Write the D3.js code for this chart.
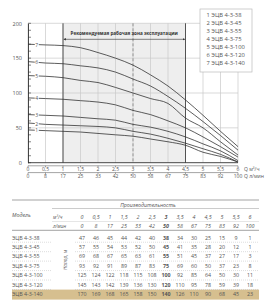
<!DOCTYPE html>
<html>
<head>
<meta charset="utf-8">
<script src="https://cdn.jsdelivr.net/npm/d3@7"></script>
<style>
  body { margin: 0; background: #fff; }
  svg { display: block; font-family: "Open Sans", sans-serif; }
</style>
</head>
<body>
<svg id="chart" width="280" height="300"></svg>
<script>
/** Flow values, m3/h and l/min */
var flowM3 = [0, 0.5, 1, 1.5, 2, 2.5, 3, 3.5, 4, 4.5, 5, 5.5, 6];
var flowLabelsM3 = ['0', '0,5', '1', '1,5', '2', '2,5', '3', '3,5', '4', '4,5', '5', '5,5', '6'];
var flowLmin = [0, 8, 17, 25, 33, 42, 50, 58, 67, 75, 83, 92, 100];

/** Pump models */
var models = ['ЭЦВ 4-3-38', 'ЭЦВ 4-3-45', 'ЭЦВ 4-3-55', 'ЭЦВ 4-3-75',
              'ЭЦВ 4-3-100', 'ЭЦВ 4-3-120', 'ЭЦВ 4-3-140'];

/** Head, m, one row per model */
var head38  = [47, 46, 45, 44, 42, 40, 38, 34, 30, 25, 15, 9, 1];
var head45  = [57, 55, 54, 53, 52, 50, 45, 41, 35, 28, 20, 12, 1];
var head55  = [69, 68, 67, 65, 63, 61, 55, 51, 45, 37, 27, 17, 3];
var head75  = [93, 92, 91, 89, 87, 83, 75, 69, 60, 50, 37, 23, 8];
var head100 = [125, 124, 122, 118, 115, 108, 100, 92, 85, 64, 50, 30, 11];
var head120 = [145, 143, 142, 139, 136, 130, 120, 110, 95, 78, 59, 39, 18];
var head140 = [170, 169, 168, 165, 158, 150, 140, 126, 110, 90, 68, 45, 23];
var heads = [head38, head45, head55, head75, head100, head120, head140];

/** Y ticks */
var headTicks = [0, 50, 100, 150, 200];
var zoneFrom = 1, zoneTo = 4.5, nominal = 3;

var svg = d3.select('#chart');
var textColor = '#555';

// ---------- chart ----------
var x = d3.scaleLinear().domain([0, 6]).range([28, 238]);
var y = d3.scaleLinear().domain([0, 200]).range([162.7, 23.3]);

// recommended zone
svg.append('rect')
    .attr('x', x(zoneFrom)).attr('y', y(200))
    .attr('width', x(zoneTo) - x(zoneFrom))
    .attr('height', y(0) - y(200))
    .attr('fill', '#eeeeee');

// grid
svg.append('g').selectAll('line')
    .data(flowM3)
    .enter().append('line')
    .attr('x1', d => x(d)).attr('x2', d => x(d))
    .attr('y1', y(200)).attr('y2', y(0))
    .attr('stroke', '#c8c8c8').attr('stroke-width', 0.7);

svg.append('g').selectAll('line')
    .data(headTicks.slice(1))
    .enter().append('line')
    .attr('x1', x(0)).attr('x2', x(6))
    .attr('y1', d => y(d)).attr('y2', d => y(d))
    .attr('stroke', '#c8c8c8').attr('stroke-width', 0.7);

// zone borders and nominal line
[zoneFrom, zoneTo].forEach(function(q) {
    svg.append('line')
        .attr('x1', x(q)).attr('x2', x(q))
        .attr('y1', y(200)).attr('y2', y(0))
        .attr('stroke', '#444').attr('stroke-width', 0.9);
});
svg.append('line')
    .attr('x1', x(nominal)).attr('x2', x(nominal))
    .attr('y1', y(200)).attr('y2', y(0))
    .attr('stroke', '#777').attr('stroke-width', 0.7)
    .attr('stroke-dasharray', '3,2');

// y axis with minor ticks
var yAxis = d3.axisLeft(y).tickValues(headTicks).tickSize(0).tickPadding(6);
var gy = svg.append('g').attr('transform', 'translate(' + x(0) + ',0)').call(yAxis);
gy.select('.domain').attr('stroke', '#333').attr('stroke-width', 0.9);
gy.selectAll('text').attr('font-size', 5.5).attr('fill', textColor)
    .attr('font-family', '"Open Sans", sans-serif');
svg.append('g').selectAll('line')
    .data(d3.range(0, 201, 10))
    .enter().append('line')
    .attr('x1', x(0)).attr('x2', x(0) + 3)
    .attr('y1', d => y(d)).attr('y2', d => y(d))
    .attr('stroke', '#333').attr('stroke-width', 0.6);

// bottom frame
svg.append('line')
    .attr('x1', x(0)).attr('x2', x(6))
    .attr('y1', y(0)).attr('y2', y(0))
    .attr('stroke', '#333').attr('stroke-width', 0.9);

// two flow axes below
function flowAxis(yPos, labels, unit) {
    var g = svg.append('g');
    g.append('line')
        .attr('x1', x(0)).attr('x2', x(6))
        .attr('y1', yPos).attr('y2', yPos)
        .attr('stroke', '#666').attr('stroke-width', 0.6);
    g.selectAll('.tk').data(flowM3).enter().append('line')
        .attr('x1', d => x(d)).attr('x2', d => x(d))
        .attr('y1', yPos).attr('y2', yPos + 1.5)
        .attr('stroke', '#666').attr('stroke-width', 0.6);
    g.selectAll('text').data(labels).enter().append('text')
        .attr('x', (d, i) => x(flowM3[i]))
        .attr('y', yPos + 3.3)
        .attr('text-anchor', 'middle')
        .attr('dominant-baseline', 'central')
        .attr('font-size', 5).attr('fill', textColor)
        .text(d => d);
    g.append('text')
        .attr('x', x(6) + 6).attr('y', yPos + 3.3)
        .attr('dominant-baseline', 'central')
        .attr('font-size', 5).attr('fill', textColor)
        .text(unit);
}
flowAxis(165.8, flowLabelsM3, 'Q м³/ч');
flowAxis(172.6, flowLmin.map(String), 'Q л/мин');

// zone caption and arrow
var defs = svg.append('defs');
defs.append('marker').attr('id', 'arr').attr('viewBox', '0 0 6 6')
    .attr('refX', 6).attr('refY', 3).attr('markerWidth', 4).attr('markerHeight', 4)
    .attr('orient', 'auto-start-reverse')
    .append('path').attr('d', 'M0,0L6,3L0,6Z').attr('fill', '#333');
svg.append('line')
    .attr('x1', x(zoneFrom) + 0.5).attr('x2', x(zoneTo) - 0.5)
    .attr('y1', 39.3).attr('y2', 39.3)
    .attr('stroke', '#333').attr('stroke-width', 0.6)
    .attr('marker-start', 'url(#arr)').attr('marker-end', 'url(#arr)');
svg.append('text')
    .attr('x', (x(zoneFrom) + x(zoneTo)) / 2).attr('y', 33.3)
    .attr('text-anchor', 'middle').attr('dominant-baseline', 'central')
    .attr('font-size', 4.6).attr('font-weight', 'bold').attr('fill', '#333')
    .text('Рекомендуемая рабочая зона эксплуатации');

// curves
var line = d3.line()
    .x((d, i) => x(flowM3[i]))
    .y(d => y(d))
    .curve(d3.curveMonotoneX);
svg.append('g').selectAll('path')
    .data(heads)
    .enter().append('path')
    .attr('d', line)
    .attr('fill', 'none')
    .attr('stroke', '#333').attr('stroke-width', 0.8);

// curve numbers
var labelQ = 0.25;
var curveLabels = svg.append('g').selectAll('g')
    .data(heads)
    .enter().append('g')
    .attr('transform', d => 'translate(' + x(labelQ) + ',' + y((d[0] + d[1]) / 2) + ')');
curveLabels.append('rect')
    .attr('x', -2).attr('y', -2.8).attr('width', 4).attr('height', 5.6)
    .attr('fill', '#fff');
curveLabels.append('text')
    .attr('text-anchor', 'middle').attr('dominant-baseline', 'central')
    .attr('font-size', 5).attr('fill', textColor)
    .text((d, i) => i + 1);

// legend
var legend = svg.append('g').attr('transform', 'translate(200,9)');
legend.append('rect')
    .attr('width', 52).attr('height', 63)
    .attr('fill', '#fff').attr('stroke', '#bbb').attr('stroke-width', 0.7);
legend.selectAll('text')
    .data(models)
    .enter().append('text')
    .attr('x', 6.5).attr('y', (d, i) => 6.3 + i * 7.95)
    .attr('dominant-baseline', 'central')
    .attr('font-size', 5.8).attr('fill', textColor)
    .text((d, i) => (i + 1) + ' ' + d);

// ---------- table ----------
var tLeft = 12, tRight = 259;
var colX = d3.scaleLinear().domain([0, 12]).range([82, 250]);
var rowY = d3.scaleLinear().domain([0, 6]).range([237.5, 294.2]);
var fs = 5.3;

// highlighted last row
svg.append('rect')
    .attr('x', tLeft).attr('y', rowY(6) - 4.6)
    .attr('width', tRight - tLeft).attr('height', 10)
    .attr('fill', '#d6bf8f');

function hline(x1, x2, yy, color, w, dash) {
    svg.append('line')
        .attr('x1', x1).attr('x2', x2).attr('y1', yy).attr('y2', yy)
        .attr('stroke', color).attr('stroke-width', w)
        .attr('stroke-dasharray', dash || null);
}
hline(tLeft, tRight, 200, '#999', 0.9);
hline(52, tRight, 208.5, '#aaa', 0.6);
hline(52, tRight, 221.5, '#ccc', 0.5);
hline(tLeft, tRight, 230.3, '#999', 0.9);
d3.range(6).forEach(function(i) {
    var yy = (rowY(i) + rowY(i + 1)) / 2;
    hline(tLeft, 52, yy, '#bbb', 0.5, '1,1');
    hline(75, tRight, yy, '#bbb', 0.5, '1,1');
});

function txt(tx, ty, s, opts) {
    opts = opts || {};
    return svg.append('text')
        .attr('x', tx).attr('y', ty)
        .attr('text-anchor', opts.anchor || 'start')
        .attr('dominant-baseline', 'central')
        .attr('font-size', opts.size || fs)
        .attr('font-style', opts.italic ? 'italic' : null)
        .attr('font-weight', opts.bold ? 'bold' : null)
        .attr('fill', textColor)
        .text(s);
}
txt(148, 204.5, 'Производительность', {anchor: 'middle', italic: true});
txt(tLeft, 215, 'Модель', {italic: true});
txt(53, 216.5, 'м³/ч', {italic: true, size: 4.8});
txt(53, 226, 'л/мин', {italic: true, size: 4.8});

flowLabelsM3.forEach(function(s, i) {
    txt(colX(i), 216.5, s, {anchor: 'middle', italic: true, bold: flowM3[i] === nominal});
});
flowLmin.forEach(function(v, i) {
    txt(colX(i), 226, v, {anchor: 'middle', italic: true, bold: flowM3[i] === nominal});
});

models.forEach(function(m, r) {
    txt(tLeft, rowY(r), m);
    heads[r].forEach(function(v, i) {
        txt(colX(i), rowY(r), v, {anchor: 'middle', bold: flowM3[i] === nominal});
    });
});

svg.append('text')
    .attr('transform', 'translate(64.5,260) rotate(-90)')
    .attr('text-anchor', 'middle').attr('dominant-baseline', 'central')
    .attr('font-size', 4.8).attr('font-style', 'italic').attr('fill', textColor)
    .text('Напор, м');
</script>
</body>
</html>
